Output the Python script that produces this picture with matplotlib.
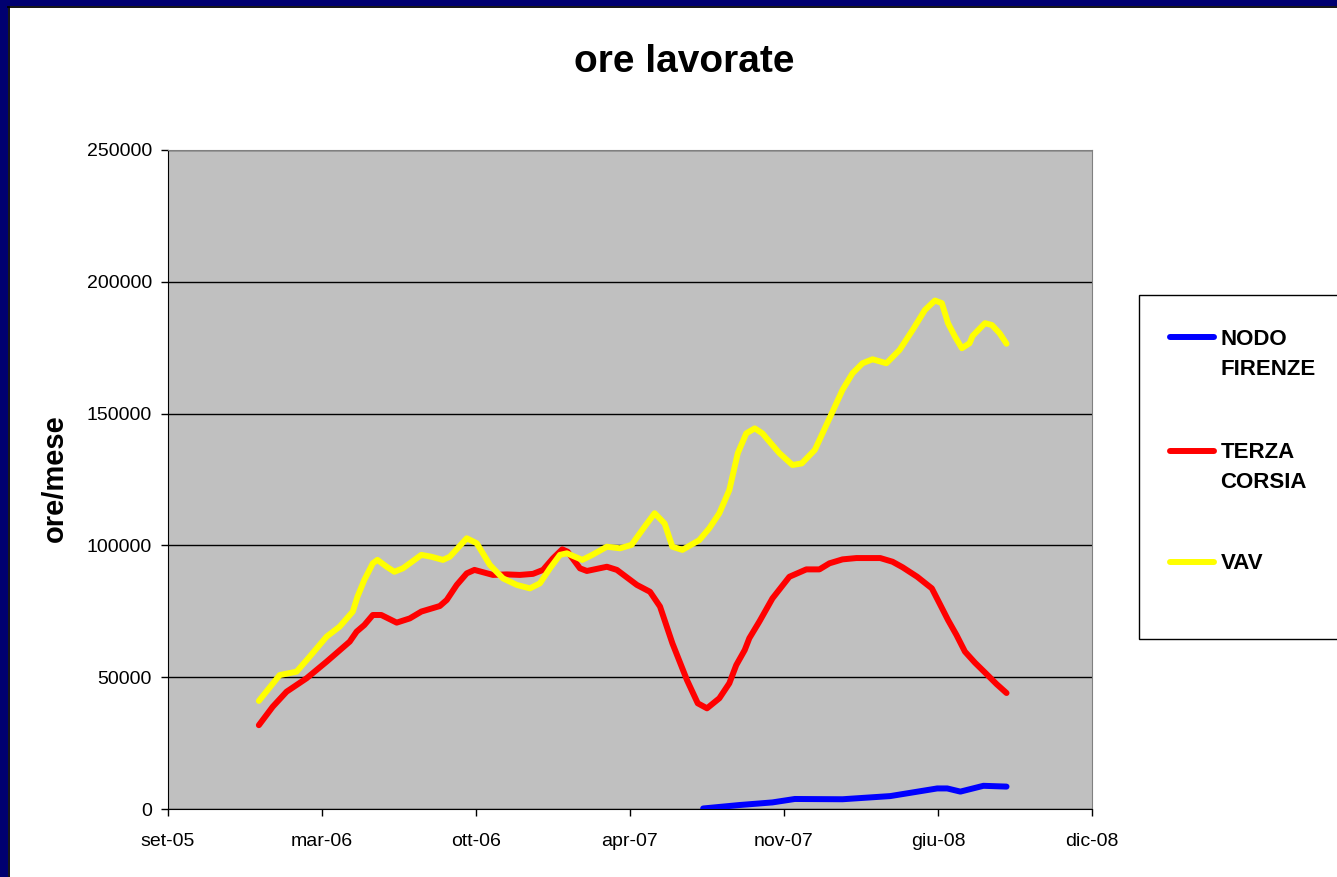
import datetime as dt
import matplotlib
matplotlib.use('Agg')
import matplotlib.pyplot as plt
from matplotlib.patches import Rectangle
from matplotlib.lines import Line2D

plt.rcParams['font.family'] = ['Liberation Sans', 'DejaVu Sans']

# serie (nomi e colori come nel foglio excel)
nomi = ['NODO FIRENZE', 'TERZA CORSIA', 'VAV']
colori = ['#0000ff', '#ff0000', '#ffff00']

# NODO FIRENZE
date_nodo = ['2007-08-01', '2007-09-17', '2007-10-30', '2007-11-28', '2008-01-29',
             '2008-03-31', '2008-05-31', '2008-06-13', '2008-06-30', '2008-07-30',
             '2008-08-29']
ore_nodo = [200, 1500, 2500, 3800, 3700, 4900, 7800, 7800, 6600, 8800, 8500]

# TERZA CORSIA
date_terza = ['2006-01-01', '2006-01-19', '2006-02-06', '2006-03-04', '2006-03-30',
              '2006-04-29', '2006-05-08', '2006-05-18', '2006-05-29', '2006-06-09',
              '2006-06-29', '2006-07-16', '2006-07-31', '2006-08-24', '2006-09-02',
              '2006-09-15', '2006-09-28', '2006-10-08', '2006-11-01', '2006-11-19',
              '2006-12-06', '2006-12-23', '2007-01-05', '2007-01-18', '2007-01-30',
              '2007-02-06', '2007-02-22', '2007-03-03', '2007-03-29', '2007-04-11',
              '2007-05-07', '2007-05-24', '2007-06-06', '2007-06-22', '2007-07-11',
              '2007-07-25', '2007-08-06', '2007-08-22', '2007-09-04', '2007-09-13',
              '2007-09-24', '2007-09-30', '2007-10-13', '2007-10-30', '2007-11-21',
              '2007-12-13', '2007-12-30', '2008-01-12', '2008-01-29', '2008-02-16',
              '2008-03-18', '2008-04-03', '2008-04-16', '2008-05-05', '2008-05-24',
              '2008-06-03', '2008-06-14', '2008-06-25', '2008-07-06', '2008-07-19',
              '2008-08-03', '2008-08-16', '2008-08-29']
ore_terza = [31800, 38800, 44500, 49600, 55900,
             63500, 67300, 69800, 73600, 73600,
             70700, 72300, 74900, 77000, 79300,
             85000, 89400, 90700, 88800, 89000,
             88800, 89200, 90700, 95100, 98500,
             97600, 91300, 90300, 91900, 90700,
             85000, 82400, 76800, 62900, 48900,
             40100, 38200, 42000, 47700, 54600,
             60300, 64800, 71100, 79900, 88100,
             90900, 90900, 93200, 94700, 95200,
             95200, 93800, 91700, 88100, 83700,
             78000, 71700, 66000, 59700, 55500,
             51200, 47400, 44000]

# VAV
date_vav = ['2006-01-01', '2006-01-28', '2006-02-19', '2006-03-08', '2006-03-30',
            '2006-04-16', '2006-05-03', '2006-05-09', '2006-05-18', '2006-05-29',
            '2006-06-04', '2006-06-16', '2006-06-26', '2006-07-07', '2006-07-16',
            '2006-07-31', '2006-08-13', '2006-08-28', '2006-09-06', '2006-09-28',
            '2006-10-11', '2006-10-28', '2006-11-14', '2006-12-02', '2006-12-19',
            '2007-01-01', '2007-01-14', '2007-01-27', '2007-02-05', '2007-02-25',
            '2007-03-10', '2007-03-29', '2007-04-15', '2007-04-30', '2007-05-17',
            '2007-05-30', '2007-06-12', '2007-06-22', '2007-07-05', '2007-07-27',
            '2007-08-09', '2007-08-22', '2007-09-04', '2007-09-15', '2007-09-26',
            '2007-10-07', '2007-10-17', '2007-10-26', '2007-11-08', '2007-11-25',
            '2007-12-07', '2007-12-24', '2008-01-03', '2008-01-16', '2008-01-29',
            '2008-02-11', '2008-02-24', '2008-03-08', '2008-03-26', '2008-04-12',
            '2008-04-29', '2008-05-15', '2008-05-28', '2008-06-06', '2008-06-14',
            '2008-06-23', '2008-07-02', '2008-07-12', '2008-07-16', '2008-08-01',
            '2008-08-10', '2008-08-20', '2008-08-29']
ore_vav = [41000, 50800, 52100, 57800, 65400,
           69200, 74900, 80500, 86900, 93200,
           94500, 91900, 90000, 91300, 93200,
           96400, 95700, 94500, 95700, 102700,
           100800, 92600, 87500, 85000, 83700,
           85600, 91300, 96400, 97000, 94500,
           96400, 99500, 98900, 100200, 107100,
           112200, 108300, 99500, 98300, 102000,
           106500, 112200, 121000, 135000, 142500,
           144400, 142500, 139400, 135000, 130500,
           131100, 136200, 142500, 150700, 159000,
           165300, 169100, 170600, 169100, 174100,
           181700, 189300, 192900, 191900, 184300,
           179200, 174800, 176700, 179500, 184300,
           183600, 180500, 176500]

# assi
xtick_labels = ['set-05', 'mar-06', 'ott-06', 'apr-07', 'nov-07', 'giu-08', 'dic-08']
yticks = [0, 50000, 100000, 150000, 200000, 250000]


def to_date(lista):
    return [dt.datetime.strptime(s, '%Y-%m-%d') for s in lista]


W, H = 1337, 877
fig = plt.figure(figsize=(W / 100, H / 100), dpi=100)
fig.patch.set_facecolor('white')

# cornice blu della diapositiva
fig.patches.append(Rectangle((0, 1 - 6 / H), 1, 6 / H, transform=fig.transFigure,
                             facecolor='#000070', edgecolor='none', zorder=0))
fig.patches.append(Rectangle((0, 0), 8 / W, 1, transform=fig.transFigure,
                             facecolor='#000070', edgecolor='none', zorder=0))
fig.lines.append(Line2D([8 / W, 1], [1 - 6.5 / H, 1 - 6.5 / H], transform=fig.transFigure,
                        color='black', lw=1.3))
fig.lines.append(Line2D([8.5 / W, 8.5 / W], [0, 1 - 6.5 / H], transform=fig.transFigure,
                        color='black', lw=1.3))

ax = fig.add_axes([168 / W, 1 - 809 / H, (1092 - 168) / W, (809 - 150) / H])
ax.set_facecolor('#c0c0c0')

serie = [(date_nodo, ore_nodo), (date_terza, ore_terza), (date_vav, ore_vav)]
for (d, v), c in zip(serie, colori):
    ax.plot(to_date(d), v, color=c, lw=4.3, solid_capstyle='round',
            solid_joinstyle='round', zorder=3)

# tick asse x: un tick ogni 200 giorni come in excel
inizio = dt.datetime(2005, 9, 5)
xticks = [inizio + dt.timedelta(days=200 * i) for i in range(len(xtick_labels))]
ax.set_xticks(xticks)
ax.set_xticklabels(xtick_labels)
ax.set_xlim(xticks[0], xticks[-1])

ax.set_yticks(yticks)
ax.set_yticklabels([str(y) for y in yticks])
ax.set_ylim(0, 250000)

ax.grid(axis='y', color='black', lw=1, zorder=1)
ax.set_axisbelow(True)
ax.tick_params(axis='both', direction='out', length=5, width=1, color='black',
               labelsize=14)
ax.tick_params(axis='y', pad=6.5)
ax.tick_params(axis='x', pad=12)
for s in ['left', 'bottom']:
    ax.spines[s].set_color('black')
for s in ['top', 'right']:
    ax.spines[s].set_color('#808080')

fig.text(684 / W, 1 - 72 / H, 'ore lavorate', fontsize=28, fontweight='bold',
         ha='center', va='baseline')
fig.text(63.3 / W, 1 - 478 / H, 'ore/mese', fontsize=21, fontweight='bold',
         rotation=90, rotation_mode='anchor', ha='center', va='baseline')

# legenda disegnata a mano (stile excel)
fig.patches.append(Rectangle((1139 / W, 1 - 639 / H), (W - 1139 + 10) / W, (639 - 295) / H,
                             transform=fig.transFigure, facecolor='white',
                             edgecolor='black', lw=1, zorder=2))
ys = [345, 458.3, 569.3]
for nome, c, y in zip(nomi, colori, ys):
    fig.lines.append(Line2D([1170 / W, 1214 / W], [1 - (y - 7.7) / H, 1 - (y - 7.7) / H],
                            transform=fig.transFigure, color=c, lw=4.3,
                            solid_capstyle='round', zorder=3))
    for i, riga in enumerate(nome.split()):
        fig.text(1220.5 / W, 1 - (y + 30 * i) / H, riga, fontsize=16, fontweight='bold',
                 ha='left', va='baseline', zorder=4)

fig.savefig('out.png', dpi=100)
